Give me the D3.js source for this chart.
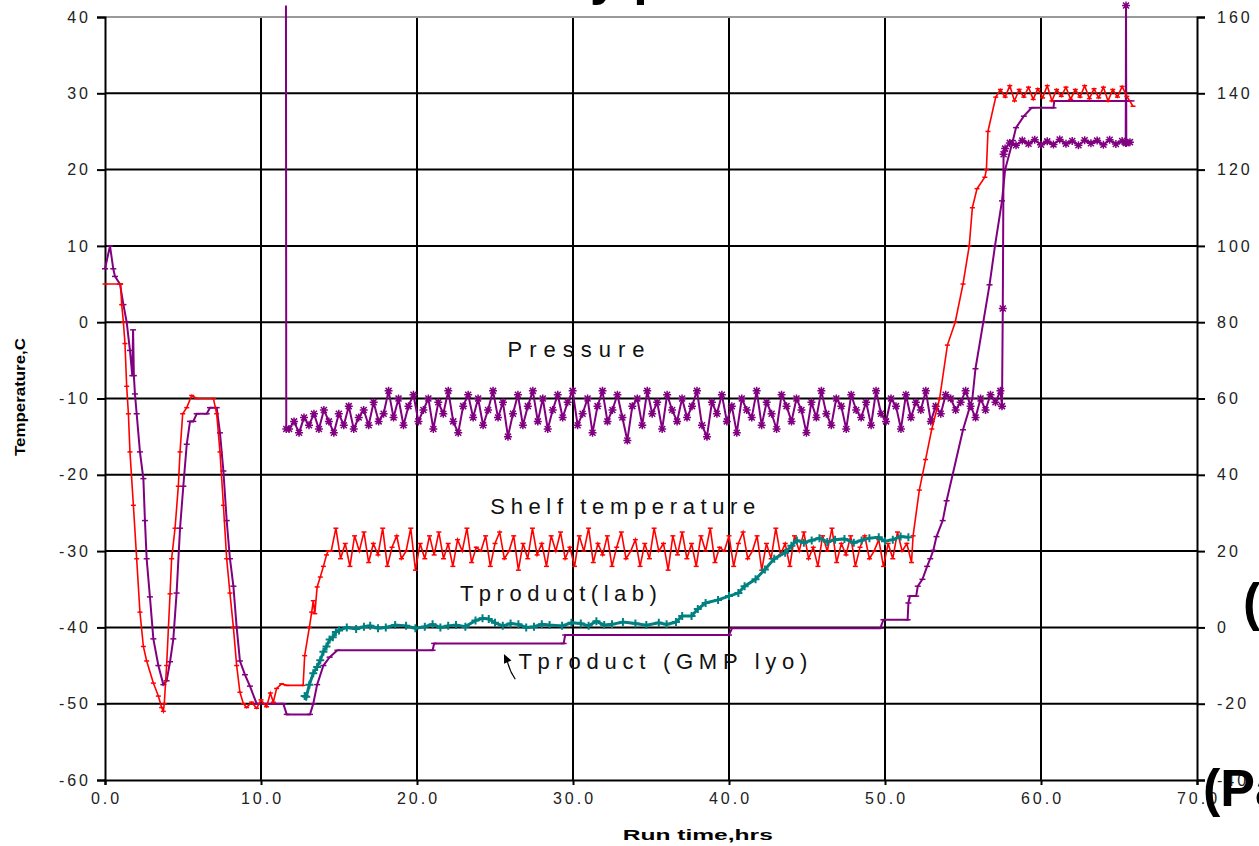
<!DOCTYPE html>
<html>
<head>
<meta charset="utf-8">
<title>Lyo run</title>
<script src="https://d3js.org/d3.v7.min.js"></script>
<style>
  body { margin: 0; background: #fff; }
  svg text { font-family: "Liberation Sans", Arial, sans-serif; }
</style>
</head>
<body>
<div id="chart"></div>
<script>
// ---- data ----
var xTicks = [0, 10, 20, 30, 40, 50, 60, 70];
var yTicksLeft = [40, 30, 20, 10, 0, -10, -20, -30, -40, -50, -60];
var yTicksRight = [160, 140, 120, 100, 80, 60, 40, 20, 0, -20, -40];

// shelf temperature (C), [hrs, value]
var shelfStart = [[0,5],[1.0,5],[1.07,2.3],[1.18,0],[1.28,-2.8],[1.39,-8.4],[1.5,-12],[1.6,-17],[1.82,-24],
  [2.03,-31],[2.24,-38],[2.46,-42.5],[2.67,-44.4],[3.1,-47.3],[3.42,-49],[3.63,-50.5],[3.74,-51],[3.8,-50],
  [3.95,-45],[4.17,-35.6],[4.27,-31],[4.49,-27],[4.7,-21.5],[4.81,-17],[4.98,-12],[5.24,-11.2],[5.56,-9.6],
  [5.88,-10],[6.95,-10],[7.16,-12],[7.37,-17],[7.59,-24],[7.8,-31],[8.01,-35.5],[8.23,-40],[8.44,-45],
  [8.65,-48.5],[8.87,-50],[9.08,-50.5],[9.4,-49.8],[9.72,-50.6],[10.0,-49.5],[10.36,-50.4],[10.6,-48.6],
  [10.79,-49.8],[11.0,-48],[11.32,-47.4],[11.65,-47.6],[12.7,-47.6],[12.8,-43.7],[13.1,-40],[13.25,-38],
  [13.35,-36.5],[13.45,-38.2],[13.6,-34.7],[13.8,-33.4],[14.0,-32],[14.2,-30.5],[14.3,-30]];
// the noisy plateau, 14.5 h to 51.7 h
var shelfNoise = [-30,-27,-31,-29,-32,-28,-30,-27.5,-31.5,-29,-30.5,-27,-32,-29.5,-28,-31,-30,-27,-32.5,-29,
  -31,-28,-30.5,-27.5,-31,-29,-32,-28.5,-30,-27,-31.5,-29.5,-30,-28,-32,-29,-27.5,-31,-30,-28,
  -32.5,-29,-31,-27,-30.5,-29,-32,-28,-30,-27.5,-31,-29.5,-32,-28,-30,-27,-31.5,-29,-30.5,-28,
  -32,-29.5,-27.5,-31,-30,-28.5,-32,-29,-31,-27,-30,-29,-32.5,-28,-30.5,-27.5,-31,-29,-32,-28,
  -30,-27,-31.5,-29.5,-30,-28,-32,-29,-27.5,-31,-30,-28,-32.5,-29,-31,-27,-30.5,-29,-32,-28,
  -30,-27.5,-31,-29.5,-32,-28,-30,-27,-31.5,-29,-30.5,-28,-32,-29.5,-28,-31,-30,-28.5,-32,-29,
  -31,-27.5,-30,-29,-31.5];
var shelfEnd = [[51.8,-28],[52.2,-22],[52.6,-18],[53.0,-14],[53.5,-10],[54.0,-3],[54.5,0],[55.0,5],[55.4,10],
  [55.6,15],[55.9,17.5],[56.4,19],[56.5,20],[56.6,25],[57.1,29.5],[57.4,30.5],[57.7,29.5],[58.0,31],
  [58.3,29],[58.6,30.5],[58.9,29.5],[59.2,30.8],[59.5,29.2],[59.8,30.6],[60.1,29.4],[60.4,31],[60.7,29],
  [61.0,30.5],[61.3,29.6],[61.6,30.8],[61.9,29.2],[62.2,30.5],[62.5,29.5],[62.8,31],[63.1,29.3],[63.4,30.6],
  [63.7,29.4],[64.0,30.8],[64.3,29],[64.6,30.5],[64.9,29.5],[65.2,30.9],[65.5,29.6],[65.9,28.3]];

// product temperature, GMP lyo (C)
var gmpProduct = [[0,7],[0.32,10],[0.53,7],[0.64,6],[0.96,5],[1.18,2.3],[1.39,0],[1.6,-3.7],[1.75,-7],[1.8,-1],
  [1.85,-7],[1.92,-9.4],[2.03,-12],[2.24,-17],[2.46,-20.5],[2.56,-26],[2.67,-31],[2.88,-36],[3.1,-41.5],
  [3.42,-45],[3.74,-47.5],[3.95,-47],[4.17,-44.5],[4.38,-41.5],[4.59,-35.5],[4.81,-27],[5.02,-21.5],[5.24,-16],
  [5.45,-13],[5.66,-13],[5.88,-12],[6.52,-12],[6.73,-11.2],[7.16,-11.2],[7.37,-14.5],[7.59,-19.5],[7.8,-26],
  [8.01,-31],[8.23,-34.6],[8.44,-40],[8.65,-44.4],[8.97,-46.2],[9.29,-47.7],[9.72,-50],[11.43,-50],[11.65,-51.4],
  [13.14,-51.4],[13.35,-50],[13.6,-47.5],[14.0,-45],[14.4,-43.9],[14.9,-43],[21.0,-43],[21.1,-42.1],[29.4,-42.1],
  [29.5,-41],[40.0,-41],[40.2,-40.1],[49.7,-40.1],[49.9,-39],[51.45,-39],[51.5,-36.8],[51.6,-35.9],[52.0,-35.9],
  [52.1,-34.6],[52.4,-33.7],[52.7,-32],[52.9,-31],[53.1,-29.9],[53.3,-28.1],[53.7,-26],[53.95,-23.4],[55.0,-14.1],
  [55.6,-10],[55.8,-6.1],[56.3,0],[56.7,4.9],[57.05,10],[57.5,15.9],[57.7,20],[58.2,23.8],[58.4,25.5],[58.9,27],
  [59.4,28.1],[60.8,28.1],[60.85,29],[65.8,29]];

// product temperature, lab (C)
var labProduct = [[12.8,-49],[12.9,-49.1],[13.1,-47.5],[13.35,-46],[13.6,-45.2],[13.8,-44.3],[14.0,-43.2],[14.2,-42.5],
  [14.4,-41.6],[14.6,-41.3],[14.8,-40.6],[15.0,-40.4],[15.5,-40],[16.1,-40.2],[16.6,-39.9],[17,-39.8],[17.5,-40.1],
  [18,-40],[18.6,-39.7],[19.3,-39.8],[19.9,-40.1],[20.5,-39.9],[21.0,-39.6],[21.5,-40],[22.0,-39.8],[22.5,-39.7],
  [23.1,-39.9],[23.75,-39.1],[24.2,-38.8],[24.6,-38.9],[25.0,-39.4],[25.5,-39.8],[26.0,-39.5],[26.5,-39.6],
  [27.0,-40],[27.5,-39.9],[28.0,-39.6],[28.5,-39.7],[29.3,-39.8],[29.9,-39.4],[30.5,-39.5],[31.0,-39.8],
  [31.5,-39.2],[32.0,-39.7],[32.5,-39.6],[33.2,-39.3],[34.0,-39.5],[34.7,-39.7],[35.5,-39.4],[36.0,-39.6],
  [36.6,-39.3],[37.0,-38.5],[37.6,-38.5],[38.0,-37.6],[38.5,-36.8],[39.3,-36.4],[40.0,-35.9],[40.6,-35.5],
  [41.0,-34.6],[41.7,-33.7],[42.3,-32.4],[42.9,-31],[43.6,-30.2],[44.0,-29.3],[44.35,-28.6],[44.8,-28.9],
  [45.3,-28.6],[45.8,-28.3],[46.3,-28.8],[46.8,-28.5],[47.4,-28.4],[48.0,-28.9],[48.5,-28.6],[49.0,-28.3],
  [49.6,-28.2],[50.0,-28.7],[50.5,-28.5],[51.0,-28.1],[51.5,-28.2]];

// chamber pressure (Pa, right axis)
var pressStart = [[11.6,163],[11.62,52]];
// noisy part, 11.8 h to 57.4 h
var pressNoise = [52,54,51,55,53,56,52,57,54,51,56,53,58,52,55,57,53,59,54,56,
  62,55,60,53,58,61,54,57,60,52,59,56,62,54,51,58,61,55,60,53,
  57,62,55,59,50,56,61,53,58,62,54,60,52,57,61,55,59,62,53,56,
  60,51,58,62,54,57,61,55,49,58,60,53,62,56,59,52,61,57,54,60,
  55,58,62,53,50,59,56,61,54,58,51,60,57,55,62,53,59,56,52,61,
  58,54,60,57,51,59,55,62,56,53,60,58,52,61,57,55,59,53,62,56,
  54,60,58,52,61,55,59,57,62,54,58,56,61,60,57,59,62,58,55,60,
  57,61,59,62];
var pressEnd = [[57.5,58],[57.55,83.6],[57.6,124],[57.7,125.5],[58.0,127],[58.4,126.4],[58.8,127.6],[59.2,126.8],
  [59.6,127.8],[60.0,126.5],[60.4,127.4],[60.8,126.6],[61.2,127.9],[61.6,126.8],[62.0,127.5],[62.4,126.4],
  [62.8,127.7],[63.2,126.9],[63.6,127.6],[64.0,126.5],[64.4,127.8],[64.8,126.7],[65.2,127.5],[65.43,127],
  [65.45,163],[65.47,127],[65.7,127.2]];

// annotations, placed in data units (len = width the text takes in the picture)
var notes = [
  {text: "Pressure", t: 25.8, v: -4.6, len: 137},
  {text: "Shelf temperature", t: 24.7, v: -25.2, len: 265},
  {text: "Tproduct(lab)", t: 22.75, v: -36.6, len: 197},
  {text: "Tproduct (GMP lyo)", t: 26.5, v: -45.4, len: 289}
];

// ---- drawing ----
var W = 1259, H = 846;
var margin = {top: 17, right: 62, bottom: 66, left: 105};
var width = W - margin.left - margin.right,
    height = H - margin.top - margin.bottom;

var svg = d3.select("#chart").append("svg")
    .attr("width", W).attr("height", H);

var g = svg.append("g")
    .attr("transform", "translate(" + margin.left + "," + margin.top + ")");

var x = d3.scaleLinear().domain([0, 70]).range([0, width]);
var y = d3.scaleLinear().domain([-60, 40]).range([height, 0]);
var y2 = d3.scaleLinear().domain([-40, 160]).range([height, 0]);

// grid
g.selectAll(".hgrid").data(yTicksLeft.filter(function(d) { return d > -60 && d < 40; }))
  .enter().append("line")
    .attr("x1", 0).attr("x2", width)
    .attr("y1", function(d) { return y(d); }).attr("y2", function(d) { return y(d); })
    .attr("stroke", "#000").attr("stroke-width", 2);
g.selectAll(".vgrid").data(xTicks.filter(function(d) { return d > 0 && d < 70; }))
  .enter().append("line")
    .attr("x1", function(d) { return x(d); }).attr("x2", function(d) { return x(d); })
    .attr("y1", 0).attr("y2", height)
    .attr("stroke", "#000").attr("stroke-width", 2);
// top border is grey
g.append("line").attr("x1", 0).attr("x2", width).attr("y1", 0).attr("y2", 0)
  .attr("stroke", "#9a9a9a").attr("stroke-width", 2);

// axes
var plain = function(d) { return String(d); };   // plain hyphen minus, like the original
var tickStyle = function(sel) {
  sel.select(".domain").attr("stroke", "#000").attr("stroke-width", 2);
  sel.selectAll(".tick line").attr("stroke", "#000").attr("stroke-width", 2);
  sel.selectAll(".tick text")
    .style("font-size", "16px").style("letter-spacing", "3px").attr("fill", "#222");
};
g.append("g").attr("transform", "translate(0," + height + ")")
  .call(d3.axisBottom(x).tickValues(xTicks).tickSize(5).tickPadding(8).tickFormat(d3.format(".1f")))
  .call(tickStyle)
  .selectAll(".tick text").attr("dx", "1px");
g.append("g")
  .call(d3.axisLeft(y).tickValues(yTicksLeft).tickSize(8).tickPadding(10).tickFormat(plain))
  .call(tickStyle)
  .selectAll(".tick text").attr("dx", "4px");
g.append("g").attr("transform", "translate(" + width + ",0)")
  .call(d3.axisRight(y2).tickValues(yTicksRight).tickSize(8).tickPadding(12).tickFormat(plain))
  .call(tickStyle);

// axis titles
svg.append("text")
  .attr("transform", "translate(25,397) rotate(-90)")
  .attr("text-anchor", "middle")
  .attr("textLength", 118).attr("lengthAdjust", "spacingAndGlyphs")
  .style("font-size", "14px").style("font-weight", "bold")
  .text("Temperature,C");
svg.append("text")
  .attr("x", margin.left + x(38)).attr("y", 840)
  .attr("text-anchor", "middle")
  .attr("textLength", 150).attr("lengthAdjust", "spacingAndGlyphs")
  .style("font-size", "15px").style("font-weight", "bold")
  .text("Run time,hrs");

// build the noisy pieces with their time stamps
function spread(vals, t0, t1) {
  var step = (t1 - t0) / (vals.length - 1);
  return vals.map(function(v, i) { return [t0 + i * step, v]; });
}
var shelf = shelfStart.concat(spread(shelfNoise, 14.5, 51.7), shelfEnd);
var pressure = pressStart.concat(spread(pressNoise, 11.8, 57.4), pressEnd);

var lineL = d3.line().x(function(d) { return x(d[0]); }).y(function(d) { return y(d[1]); });
var lineR = d3.line().x(function(d) { return x(d[0]); }).y(function(d) { return y2(d[1]); });

// pressure, purple with star markers
g.append("path").datum(pressure)
  .attr("fill", "none").attr("stroke", "#800080").attr("stroke-width", 2).attr("d", lineR);
g.selectAll(".pm").data(pressure.slice(1))
  .enter().append("path")
    .attr("transform", function(d) { return "translate(" + x(d[0]) + "," + y2(d[1]) + ")"; })
    .attr("d", "M-4,0H4M0,-4V4M-3,-3L3,3M-3,3L3,-3")
    .attr("stroke", "#800080").attr("stroke-width", 1.5);

// product GMP lyo
g.append("path").datum(gmpProduct)
  .attr("fill", "none").attr("stroke", "#800080").attr("stroke-width", 2).attr("d", lineL);
g.selectAll(".gm").data(gmpProduct)
  .enter().append("path")
    .attr("transform", function(d) { return "translate(" + x(d[0]) + "," + y(d[1]) + ")"; })
    .attr("d", "M-3,0H3")
    .attr("stroke", "#800080").attr("stroke-width", 1.5);

// shelf temperature
g.append("path").datum(shelf)
  .attr("fill", "none").attr("stroke", "#ff0000").attr("stroke-width", 1.6).attr("d", lineL);
g.selectAll(".sm").data(shelf)
  .enter().append("path")
    .attr("transform", function(d) { return "translate(" + x(d[0]) + "," + y(d[1]) + ")"; })
    .attr("d", "M-2.5,0H2.5")
    .attr("stroke", "#ff0000").attr("stroke-width", 1.5);

// product lab, teal with plus markers
g.append("path").datum(labProduct)
  .attr("fill", "none").attr("stroke", "#008080").attr("stroke-width", 3).attr("d", lineL);
g.selectAll(".lm").data(labProduct)
  .enter().append("path")
    .attr("transform", function(d) { return "translate(" + x(d[0]) + "," + y(d[1]) + ")"; })
    .attr("d", "M-4,0H4M0,-4V4")
    .attr("stroke", "#008080").attr("stroke-width", 2);

// labels
g.selectAll(".note").data(notes)
  .enter().append("text")
    .attr("x", function(d) { return x(d.t); })
    .attr("y", function(d) { return y(d.v); })
    .attr("textLength", function(d) { return d.len; })
    .attr("lengthAdjust", "spacing")
    .style("font-size", "22px").attr("fill", "#111")
    .text(function(d) { return d.text; });

// little arrow to the GMP curve
g.append("path")
  .attr("d", "M" + x(26.3) + "," + y(-46.8) + "Q" + x(25.9) + "," + y(-45.6) + " " + x(25.75) + "," + y(-44.1))
  .attr("fill", "none").attr("stroke", "#000").attr("stroke-width", 1.2);
g.append("path")
  .attr("transform", "translate(" + x(25.6) + "," + y(-43.6) + ") rotate(-25)")
  .attr("d", "M0,-1L-4,8L4,8Z").attr("fill", "#000");

// cut-off text bits at the edges of the picture
svg.append("text").attr("x", 1243).attr("y", 620)
  .style("font-size", "52px").style("font-weight", "bold").text("(");
svg.append("text").attr("x", 1203).attr("y", 806)
  .style("font-size", "52px").style("font-weight", "bold").text("(Pa");
svg.append("text").attr("x", 590).attr("y", -6)
  .style("font-size", "52px").style("font-weight", "bold").text("y p");
</script>
</body>
</html>
